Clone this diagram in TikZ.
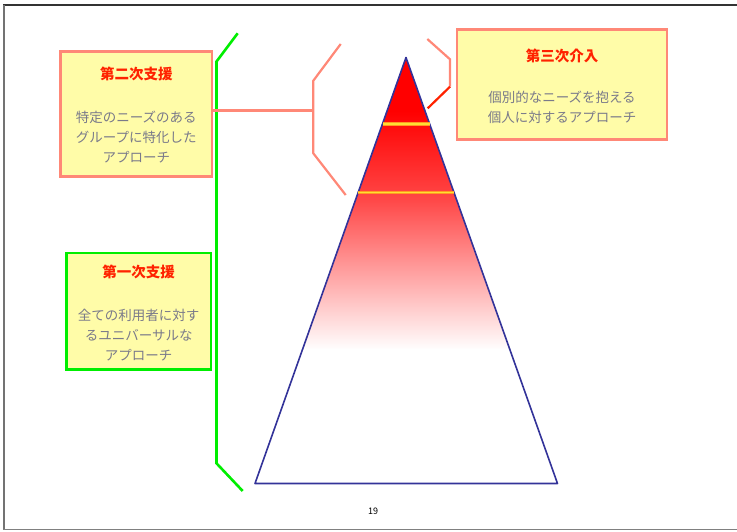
\documentclass[tikz,border=0pt]{standalone}
\usepackage{fontspec}
\setmainfont{Noto Sans CJK JP}
\definecolor{boxfill}{HTML}{FFFCA8}
\definecolor{salmon}{HTML}{FF8877}
\definecolor{brgreen}{HTML}{00EE00}
\definecolor{titlered}{HTML}{FF2200}
\definecolor{bodygray}{HTML}{7A7A8A}
\definecolor{triblue}{HTML}{333399}
\definecolor{tyellow}{HTML}{FFDD33}
\definecolor{torange}{HTML}{FF9922}
\definecolor{midred}{HTML}{FF4848}
\tikzset{
  box/.style={draw, fill=boxfill, line width=2.6pt, inner sep=0pt},
  ttl/.style={font=\fontsize{14.5}{16}\selectfont\bfseries, text=titlered, inner sep=0pt},
  body/.style={font=\fontsize{13.5}{20}\selectfont, text=bodygray, align=center, inner sep=0pt},
  gbracket/.style={draw=brgreen, line width=2.6pt},
  sbracket/.style={draw=salmon, line width=2.2pt},
  bandout/.style={draw=torange, line width=3.6pt},
  bandin/.style={draw=tyellow, line width=1.8pt}
}
\begin{document}
\begin{tikzpicture}[x=1pt,y=-1pt]
\useasboundingbox (0,0) rectangle (737,531);
% frame
\draw[line width=1.5pt, color=black!80] (3,5) -- (737,5);
\draw[line width=2pt, color=black!55] (3.5,5) -- (3.5,530);
\draw[line width=1.5pt, color=black!50] (3,529.5) -- (737,529.5);

% triangle
\coordinate (apex) at (406,57.5);
\coordinate (bl) at (255,483.5);
\coordinate (br) at (557.5,483.5);
\begin{scope}
\clip (apex) -- (bl) -- (br) -- cycle;
\fill[red] (250,50) rectangle (560,112);
\shade[top color=red, bottom color=midred] (250,111) rectangle (560,201);
\shade[top color=midred, bottom color=white] (250,200) rectangle (560,350);
\fill[white] (250,349) rectangle (560,490);
\end{scope}
\draw[triblue, line width=1.6pt, line join=round] (apex) -- (bl) -- (br) -- cycle;
% yellow bands
\coordinate (b1l) at (382.6,124);
\coordinate (b1r) at (429.6,124);
\coordinate (b2l) at (358,192.5);
\coordinate (b2r) at (454,192.5);
\draw[bandout] (b1l) -- (b1r);
\draw[bandin] (b1l) -- (b1r);
\draw[bandout] (b2l) -- (b2r);
\draw[bandin] (b2l) -- (b2r);

% boxes
\node[box, draw=salmon, minimum width=151.5pt, minimum height=125pt] (box2) at (136.3,113.9) {};
\node[box, draw=brgreen, minimum width=144.3pt, minimum height=116.3pt] (box1) at (138.7,311.3) {};
\node[box, draw=salmon, minimum width=210pt, minimum height=110.5pt] (box3) at (562,84.5) {};

% texts
\node[ttl] (t2) at (136.3,74.3) {第二次支援};
\node[body] (b2) at (136.3,137) {特定のニーズのある\\グループに特化した\\アプローチ};
\node[ttl] (t1) at (138.7,271.7) {第一次支援};
\node[body] (b1) at (138.7,335.3) {全ての利用者に対す\\るユニバーサルな\\アプローチ};
\node[ttl] (t3) at (562,56) {第三次介入};
\node[body] (b3) at (562,107.5) {個別的なニーズを抱える\\個人に対するアプローチ};

% green bracket
\coordinate (g1) at (237.7,33.3);
\coordinate (g2) at (216.5,61.5);
\coordinate (g3) at (216.5,463.3);
\coordinate (g4) at (242.7,491);
\draw[gbracket] (g1) -- (g2) -- (g3) -- (g4);

% salmon bracket (second)
\coordinate (s1) at (340.7,44);
\coordinate (s2) at (313.3,80.7);
\coordinate (s3) at (313.3,110.5);
\coordinate (s4) at (313.3,153.3);
\coordinate (s5) at (345.7,195);
\draw[sbracket] (s1) -- (s2) -- (s4) -- (s5);
\draw[sbracket] (box2.east |- s3) -- (s3);

% third bracket
\coordinate (r1) at (427.3,39);
\coordinate (r2) at (450,59.3);
\coordinate (r3) at (450,86.7);
\coordinate (r4) at (427.7,108.3);
\draw[sbracket] (r1) -- (r2) -- (r3);
\draw[titlered, line width=2.2pt] (r3) -- (r4);

% page number
\node[font=\fontsize{9}{10}\selectfont, inner sep=0pt] (pg) at (373,511) {19};
\end{tikzpicture}
\end{document}
